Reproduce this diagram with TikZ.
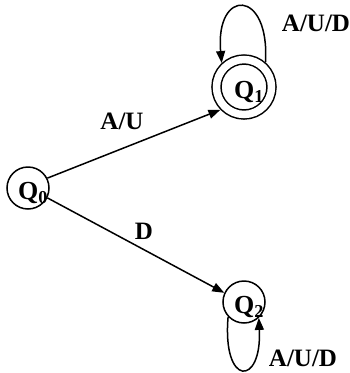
\documentclass[tikz,border=0pt]{standalone}
\usepackage{fontspec}
\setmainfont{Liberation Serif}
\usetikzlibrary{arrows.meta}
\begin{document}
\begin{tikzpicture}[x=1pt, y=-1pt, line width=1.5pt, >={Triangle[length=12pt,width=9pt]},
    state/.style={circle, draw, minimum size=42pt, inner sep=0pt},
    accepting/.style={state, double, double distance=7.5pt, minimum size=55pt, outer sep=5.25pt},
    qname/.style={font=\fontsize{26}{28}\selectfont\bfseries, inner sep=0pt, xshift=5pt, yshift=-5pt},
    lbl/.style={font=\fontsize{25}{27}\selectfont\bfseries, inner sep=0pt}]
    \useasboundingbox (0,0) rectangle (350,373);
    \node[state, label={[qname]center:Q\textsubscript{0}}] (q0) at (28,188) {};
    \node[accepting, label={[qname]center:Q\textsubscript{1}}] (q1) at (244,87) {};
    \node[state, label={[qname]center:Q\textsubscript{2}}] (q2) at (244,302) {};
    \draw[->] (q0.27) -- (q1.224);
    \draw[->] (q0.-27) -- (q2.155);
    \draw[->] (q1.49) .. controls (270,-12) and (215,-12) .. (q1.133);
    \draw[->] (q2.223) .. controls (222,387) and (262,387) .. (q2.313);
    \node[lbl] (au) at (122,121) {A/U};
    \node[lbl] (d) at (144,231) {D};
    \node[lbl] (aud1) at (316,23) {A/U/D};
    \node[lbl] (aud2) at (303,358) {A/U/D};
\end{tikzpicture}
\end{document}
